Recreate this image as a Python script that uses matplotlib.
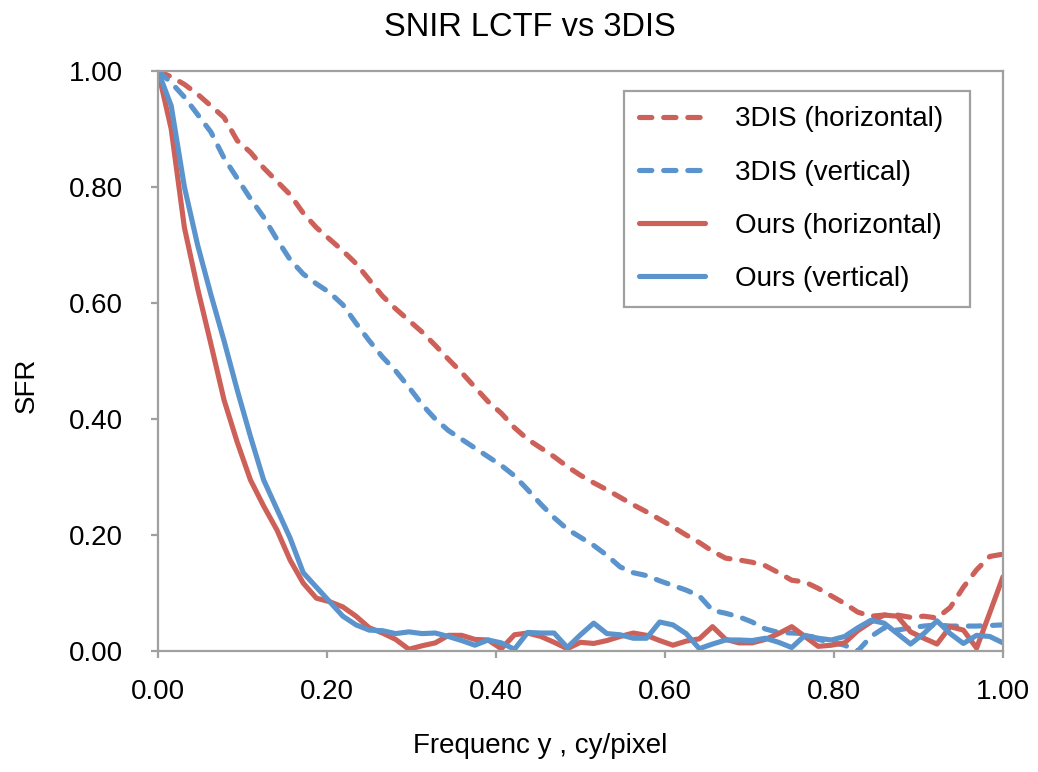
import numpy as np
import matplotlib
matplotlib.use("Agg")
import matplotlib.pyplot as plt

plt.rcParams['font.family'] = ['Liberation Sans', 'DejaVu Sans']

# Spatial frequency samples (cy/pixel), step 1/64
freq = np.arange(65) / 64.0

sfr_3dis_h = [1.000, 0.990, 0.977, 0.960, 0.940, 0.920, 0.880, 0.860, 0.833, 0.810,
              0.787, 0.755, 0.730, 0.710, 0.690, 0.668, 0.640, 0.612, 0.590, 0.570,
              0.550, 0.527, 0.503, 0.480, 0.455, 0.430, 0.410, 0.385, 0.365, 0.350,
              0.335, 0.318, 0.303, 0.290, 0.278, 0.265, 0.252, 0.240, 0.227, 0.214,
              0.200, 0.187, 0.172, 0.160, 0.157, 0.153, 0.147, 0.135, 0.122, 0.119,
              0.108, 0.095, 0.082, 0.067, 0.060, 0.062, 0.062, 0.058, 0.060, 0.057,
              0.075, 0.110, 0.140, 0.163, 0.167]

sfr_3dis_v = [1.000, 0.980, 0.955, 0.925, 0.895, 0.850, 0.815, 0.780, 0.748, 0.710,
              0.675, 0.650, 0.633, 0.618, 0.597, 0.565, 0.535, 0.507, 0.483, 0.455,
              0.425, 0.400, 0.380, 0.365, 0.350, 0.335, 0.320, 0.302, 0.278, 0.253,
              0.230, 0.210, 0.196, 0.182, 0.165, 0.145, 0.135, 0.130, 0.121, 0.113,
              0.105, 0.095, 0.070, 0.065, 0.059, 0.050, 0.038, 0.032, 0.031, 0.030,
              0.020, 0.015, 0.010, 0.000, 0.025, 0.040, 0.036, 0.040, 0.043, 0.045,
              0.043, 0.043, 0.043, 0.044, 0.045]

sfr_ours_h = [1.000, 0.900, 0.730, 0.625, 0.530, 0.433, 0.360, 0.295, 0.250, 0.209,
              0.157, 0.117, 0.091, 0.085, 0.076, 0.060, 0.040, 0.031, 0.020, 0.003,
              0.009, 0.014, 0.027, 0.027, 0.020, 0.019, 0.004, 0.028, 0.031, 0.025,
              0.015, 0.004, 0.015, 0.013, 0.018, 0.025, 0.031, 0.027, 0.018, 0.010,
              0.017, 0.021, 0.042, 0.020, 0.014, 0.014, 0.020, 0.030, 0.042, 0.025,
              0.008, 0.010, 0.014, 0.035, 0.050, 0.062, 0.060, 0.033, 0.022, 0.012,
              0.042, 0.036, 0.005, 0.066, 0.128]

sfr_ours_v = [1.000, 0.940, 0.800, 0.700, 0.615, 0.535, 0.450, 0.370, 0.295, 0.245,
              0.195, 0.135, 0.110, 0.085, 0.060, 0.045, 0.036, 0.035, 0.030, 0.033,
              0.030, 0.031, 0.025, 0.018, 0.010, 0.019, 0.014, 0.003, 0.032, 0.031,
              0.031, 0.006, 0.028, 0.048, 0.030, 0.028, 0.022, 0.022, 0.050, 0.045,
              0.030, 0.004, 0.012, 0.019, 0.019, 0.018, 0.022, 0.015, 0.006, 0.027,
              0.022, 0.019, 0.025, 0.040, 0.053, 0.048, 0.030, 0.012, 0.030, 0.052,
              0.030, 0.013, 0.027, 0.025, 0.014]

labels = ["3DIS (horizontal)", "3DIS (vertical)", "Ours (horizontal)", "Ours (vertical)"]
xticks = [0.0, 0.2, 0.4, 0.6, 0.8, 1.0]
yticks = [0.0, 0.2, 0.4, 0.6, 0.8, 1.0]

RED = "#CD6159"
BLUE = "#5B94CC"
GRID = "#A0A0A0"

fig = plt.figure(figsize=(10.38, 7.72), dpi=100)
ax = fig.add_axes([158 / 1038, 1 - 651 / 772, 845 / 1038, 580 / 772])

lw = 3.7
dash = dict(linestyle=(0, (2.4, 2.3)), dash_capstyle="round")
ax.plot(freq, sfr_3dis_h, color=RED, lw=lw, label=labels[0], **dash)
ax.plot(freq, sfr_3dis_v, color=BLUE, lw=lw, label=labels[1], **dash)
ax.plot(freq, sfr_ours_h, color=RED, lw=lw, label=labels[2], solid_capstyle="round")
ax.plot(freq, sfr_ours_v, color=BLUE, lw=lw, label=labels[3], solid_capstyle="round")

ax.set_xlim(0, 1)
ax.set_ylim(0, 1)
ax.set_xticks(xticks)
ax.set_yticks(yticks)
ax.set_xticklabels([f"{v:.2f}" for v in xticks])
ax.set_yticklabels([f"{v:.2f}" for v in yticks])
for s in ax.spines.values():
    s.set_color(GRID)
    s.set_linewidth(1.6)
ax.tick_params(axis="both", direction="out", length=5, width=1.6, color=GRID,
               labelsize=20, labelcolor="black")
ax.tick_params(axis="y", pad=20)
ax.tick_params(axis="x", pad=15)

fig.text(530 / 1038, 1 - 27 / 772, "SNIR LCTF vs 3DIS", fontsize=23.5,
         ha="center", va="center")
fig.text(540 / 1038, 1 - 746 / 772, "Frequenc y , cy/pixel", fontsize=20,
         ha="center", va="center")
fig.text(27 / 1038, 1 - 385 / 772, "SFR", fontsize=20, rotation=90,
         ha="center", va="center")

leg = ax.legend(loc="upper left",
                bbox_to_anchor=(624 / 1038, 1 - 91 / 772, 346 / 1038, 0.0),
                bbox_transform=fig.transFigure, mode="expand",
                fontsize=20, frameon=True, fancybox=False, framealpha=1,
                edgecolor=GRID, borderpad=0.55, labelspacing=0.98,
                handlelength=2.35, handletextpad=1.1, borderaxespad=0)
leg.get_frame().set_linewidth(1.6)

fig.savefig("out.png", dpi=100)
